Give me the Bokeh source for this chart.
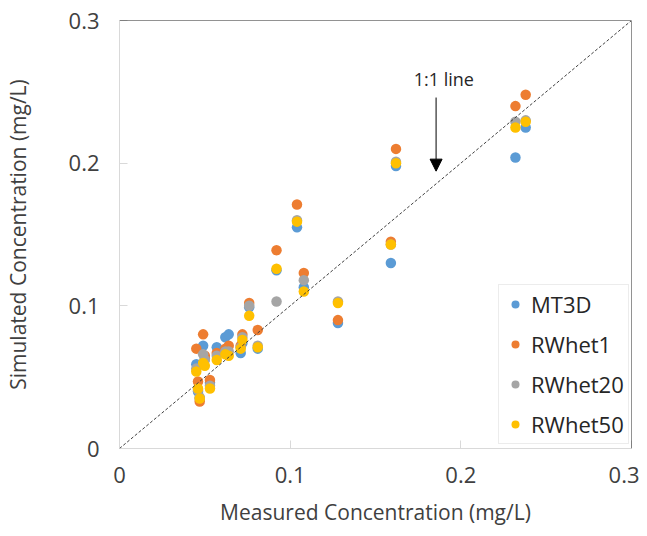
from bokeh.plotting import figure
from bokeh.models import (Range1d, FixedTicker, Span, Arrow, NormalHead, Label,
                          Legend, LegendItem, ColumnDataSource, Slope)
from bokeh.embed import file_html
from bokeh.resources import INLINE

# Measured concentrations (mg/L)
measured = [0.045, 0.046, 0.047, 0.049, 0.050, 0.053, 0.057, 0.062, 0.064,
            0.071, 0.072, 0.076, 0.081, 0.092, 0.104, 0.108, 0.128, 0.159,
            0.162, 0.232, 0.238]
# Simulated concentrations (mg/L)
mt3d    = [0.059, 0.040, 0.035, 0.072, 0.063, 0.046, 0.071, 0.078, 0.080,
           0.067, 0.074, 0.099, 0.070, 0.125, 0.155, 0.113, 0.088, 0.130,
           0.198, 0.204, 0.225]
rwhet1  = [0.070, 0.047, 0.033, 0.080, 0.065, 0.048, 0.067, 0.070, 0.072,
           0.072, 0.080, 0.102, 0.083, 0.139, 0.171, 0.123, 0.090, 0.145,
           0.210, 0.240, 0.248]
rwhet20 = [0.056, 0.041, 0.036, 0.066, 0.062, 0.044, 0.065, 0.068, 0.068,
           0.071, 0.078, 0.100, 0.072, 0.103, 0.160, 0.118, 0.103, 0.143,
           0.201, 0.229, 0.230]
rwhet50 = [0.054, 0.042, 0.035, 0.060, 0.058, 0.042, 0.062, 0.066, 0.065,
           0.070, 0.076, 0.093, 0.071, 0.126, 0.159, 0.110, 0.102, 0.143,
           0.200, 0.225, 0.229]

series_names = ["MT3D", "RWhet1", "RWhet20", "RWhet50"]
series_vals = [mt3d, rwhet1, rwhet20, rwhet50]
colors = ["#5B9BD5", "#ED7D31", "#A5A5A5", "#FFC000"]
ticks = [0, 0.1, 0.2, 0.3]
tick_labels = {0: "0", 0.1: "0.1", 0.2: "0.2", 0.3: "0.3"}

FONT = "Open Sans"
TXT = "#404040"

p = figure(width=639, height=528, output_backend="svg", toolbar_location=None,
           x_range=Range1d(0, 0.3), y_range=Range1d(0, 0.3),
           min_border_left=119, min_border_right=8, min_border_top=20,
           min_border_bottom=80)
p.outline_line_color = None
p.xgrid.visible = False
p.ygrid.visible = False
p.background_fill_color = "white"
p.border_fill_color = "white"

for ax in (p.xaxis[0], p.yaxis[0]):
    ax.ticker = FixedTicker(ticks=ticks)
    ax.major_label_overrides = tick_labels
    ax.axis_line_color = "#D9D9D9"
    ax.major_tick_line_color = "#D9D9D9"
    ax.major_tick_in = 8
    ax.major_tick_out = 0
    ax.minor_tick_line_color = None
    ax.major_label_text_font = FONT
    ax.major_label_text_font_size = "22px"
    ax.major_label_text_color = TXT
    ax.axis_label_text_font = FONT
    ax.axis_label_text_font_size = "21px"
    ax.axis_label_text_font_style = "normal"
    ax.axis_label_text_color = TXT

p.xaxis.axis_label = "Measured Concentration (mg/L)"
p.yaxis.axis_label = "Simulated Concentration (mg/L)"
p.xaxis.major_label_standoff = 18
p.yaxis.major_label_standoff = 20
p.xaxis.axis_label_standoff = 12
p.yaxis.axis_label_standoff = 34

# top and right borders
p.add_layout(Span(location=0.3, dimension="width", line_color="#262626", line_width=1))
p.add_layout(Span(location=0.3, dimension="height", line_color="#262626", line_width=1))

# 1:1 line
p.add_layout(Slope(gradient=1, y_intercept=0, line_color="#404040",
                   line_dash="3 2", line_width=1))

items = []
for name, vals, c in zip(series_names, series_vals, colors):
    src = ColumnDataSource(dict(x=measured, y=vals))
    r = p.scatter("x", "y", source=src, size=10.5, fill_color=c, line_color=c,
                  line_width=0)
    items.append(LegendItem(label=name, renderers=[r]))

legend = Legend(items=items, location=(379, 4), orientation="vertical",
                label_text_font=FONT, label_text_font_size="22px",
                label_text_color="#262626", border_line_color="#D9D9D9",
                border_line_width=1, background_fill_color="white",
                background_fill_alpha=1, padding=4, spacing=10,
                glyph_width=24, glyph_height=20, label_height=20,
                label_standoff=4, margin=0)
p.add_layout(legend, "center")

# annotation
p.add_layout(Arrow(end=NormalHead(size=12, fill_color="black", line_color="black"),
                   x_start=0.1855, y_start=0.246, x_end=0.1855, y_end=0.1944,
                   line_color="black", line_width=1))
p.add_layout(Label(x=0.190, y=0.259, text="1:1 line", text_font="Open Sans",
                   text_font_size="18px", text_color="#262626",
                   text_align="center", text_baseline="middle"))

open("out.html", "w").write(file_html(p, INLINE))
